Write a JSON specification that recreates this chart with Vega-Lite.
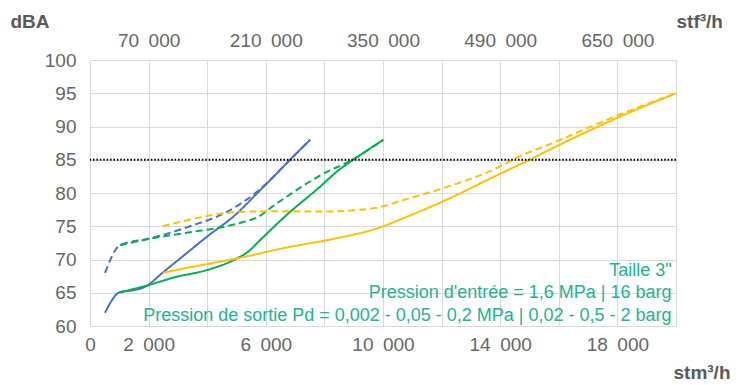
{
  "$schema": "https://vega.github.io/schema/vega-lite/v6.json",
  "width": 586,
  "height": 266,
  "autosize": {"type": "none"},
  "padding": {"left": 90, "top": 60, "right": 68, "bottom": 59},
  "background": "white",
  "config": {
    "view": {"stroke": null},
    "axis": {
      "labelFont": "Liberation Sans",
      "labelFontSize": 19,
      "labelColor": "#666666",
      "titleFont": "Liberation Sans",
      "titleFontWeight": "bold",
      "titleFontSize": 19,
      "titleColor": "#595959",
      "gridColor": "#d9d9d9",
      "gridWidth": 1,
      "domain": false,
      "ticks": false,
      "tickSize": 0,
      "labelOverlap": false,
      "labelFlush": false,
      "labelBound": false
    }
  },
  "datasets": {
    "curves": [
      {"x": 512, "y": 62.0, "series": "blue", "style": "solid"},
      {"x": 1024, "y": 65.1, "series": "blue", "style": "solid"},
      {"x": 1500, "y": 65.4, "series": "blue", "style": "solid"},
      {"x": 1878, "y": 65.9, "series": "blue", "style": "solid"},
      {"x": 2500, "y": 68.1, "series": "blue", "style": "solid"},
      {"x": 3200, "y": 70.6, "series": "blue", "style": "solid"},
      {"x": 3983, "y": 73.4, "series": "blue", "style": "solid"},
      {"x": 5007, "y": 76.9, "series": "blue", "style": "solid"},
      {"x": 5690, "y": 79.9, "series": "blue", "style": "solid"},
      {"x": 6300, "y": 82.6, "series": "blue", "style": "solid"},
      {"x": 6828, "y": 85.0, "series": "blue", "style": "solid"},
      {"x": 7511, "y": 88.0, "series": "blue", "style": "solid"},

      {"x": 512, "y": 68.0, "series": "blue", "style": "dashed"},
      {"x": 1024, "y": 72.15, "series": "blue", "style": "dashed"},
      {"x": 2026, "y": 73.15, "series": "blue", "style": "dashed"},
      {"x": 3414, "y": 75.0, "series": "blue", "style": "dashed"},
      {"x": 4666, "y": 77.15, "series": "blue", "style": "dashed"},
      {"x": 5690, "y": 80.15, "series": "blue", "style": "dashed"},
      {"x": 6828, "y": 85.0, "series": "blue", "style": "dashed"},
      {"x": 7511, "y": 88.0, "series": "blue", "style": "dashed"},

      {"x": 1024, "y": 65.05, "series": "green", "style": "solid"},
      {"x": 1878, "y": 66.0, "series": "green", "style": "solid"},
      {"x": 2959, "y": 67.4, "series": "green", "style": "solid"},
      {"x": 3983, "y": 68.4, "series": "green", "style": "solid"},
      {"x": 5007, "y": 70.15, "series": "green", "style": "solid"},
      {"x": 5461, "y": 71.4, "series": "green", "style": "solid"},
      {"x": 5690, "y": 72.4, "series": "green", "style": "solid"},
      {"x": 6828, "y": 77.15, "series": "green", "style": "solid"},
      {"x": 7736, "y": 80.5, "series": "green", "style": "solid"},
      {"x": 8535, "y": 83.6, "series": "green", "style": "solid"},
      {"x": 8987, "y": 85.0, "series": "green", "style": "solid"},
      {"x": 10011, "y": 88.0, "series": "green", "style": "solid"},

      {"x": 1024, "y": 72.15, "series": "green", "style": "dashed"},
      {"x": 2026, "y": 73.1, "series": "green", "style": "dashed"},
      {"x": 3414, "y": 74.1, "series": "green", "style": "dashed"},
      {"x": 4552, "y": 74.9, "series": "green", "style": "dashed"},
      {"x": 5200, "y": 75.6, "series": "green", "style": "dashed"},
      {"x": 5690, "y": 76.3, "series": "green", "style": "dashed"},
      {"x": 6300, "y": 78.2, "series": "green", "style": "dashed"},
      {"x": 7000, "y": 80.3, "series": "green", "style": "dashed"},
      {"x": 7964, "y": 82.9, "series": "green", "style": "dashed"},
      {"x": 8873, "y": 84.8, "series": "green", "style": "dashed"},
      {"x": 10011, "y": 88.0, "series": "green", "style": "dashed"},

      {"x": 2481, "y": 68.0, "series": "yellow", "style": "solid"},
      {"x": 3500, "y": 68.9, "series": "yellow", "style": "solid"},
      {"x": 5007, "y": 70.15, "series": "yellow", "style": "solid"},
      {"x": 6828, "y": 71.9, "series": "yellow", "style": "solid"},
      {"x": 7964, "y": 72.8, "series": "yellow", "style": "solid"},
      {"x": 8535, "y": 73.3, "series": "yellow", "style": "solid"},
      {"x": 10011, "y": 75.0, "series": "yellow", "style": "solid"},
      {"x": 10580, "y": 76.0, "series": "yellow", "style": "solid"},
      {"x": 12000, "y": 78.65, "series": "yellow", "style": "solid"},
      {"x": 14000, "y": 82.9, "series": "yellow", "style": "solid"},
      {"x": 15000, "y": 85.0, "series": "yellow", "style": "solid"},
      {"x": 16000, "y": 87.2, "series": "yellow", "style": "solid"},
      {"x": 18000, "y": 91.3, "series": "yellow", "style": "solid"},
      {"x": 20000, "y": 95.0, "series": "yellow", "style": "solid"},

      {"x": 2481, "y": 75.0, "series": "yellow", "style": "dashed"},
      {"x": 3414, "y": 76.0, "series": "yellow", "style": "dashed"},
      {"x": 4500, "y": 76.9, "series": "yellow", "style": "dashed"},
      {"x": 5461, "y": 77.2, "series": "yellow", "style": "dashed"},
      {"x": 6500, "y": 77.25, "series": "yellow", "style": "dashed"},
      {"x": 7964, "y": 77.2, "series": "yellow", "style": "dashed"},
      {"x": 9000, "y": 77.4, "series": "yellow", "style": "dashed"},
      {"x": 10011, "y": 78.0, "series": "yellow", "style": "dashed"},
      {"x": 10580, "y": 78.8, "series": "yellow", "style": "dashed"},
      {"x": 12000, "y": 80.65, "series": "yellow", "style": "dashed"},
      {"x": 14000, "y": 84.0, "series": "yellow", "style": "dashed"},
      {"x": 14430, "y": 85.0, "series": "yellow", "style": "dashed"},
      {"x": 16000, "y": 87.9, "series": "yellow", "style": "dashed"},
      {"x": 18000, "y": 91.65, "series": "yellow", "style": "dashed"},
      {"x": 20000, "y": 95.0, "series": "yellow", "style": "dashed"}
    ],
    "one": [{"limit": 85}]
  },
  "layer": [
    {
      "data": {"name": "curves"},
      "mark": {"type": "line", "interpolate": "monotone", "strokeWidth": 2},
      "encoding": {
        "x": {
          "field": "x",
          "type": "quantitative",
          "scale": {"domain": [0, 20000], "nice": false, "zero": false},
          "axis": {
            "orient": "bottom",
            "values": [0, 2000, 4000, 6000, 8000, 10000, 12000, 14000, 16000, 18000, 20000],
            "labelExpr": "datum.value % 4000 == 0 && datum.value > 0 ? '' : replace(format(datum.value, ','), ',', '\u2002')",
            "labelPadding": 9,
            "grid": true,
            "title": "stm³/h",
            "titleAlign": "left",
            "titleBaseline": "alphabetic",
            "titleAngle": 0,
            "titleX": 583,
            "titleY": 52
          }
        },
        "y": {
          "field": "y",
          "type": "quantitative",
          "scale": {"domain": [60, 100], "nice": false, "zero": false},
          "axis": {
            "values": [60, 65, 70, 75, 80, 85, 90, 95, 100],
            "labelPadding": 14,
            "grid": true,
            "title": "dBA",
            "titleAngle": 0,
            "titleAlign": "left",
            "titleBaseline": "alphabetic",
            "titleX": -80,
            "titleY": -33
          }
        },
        "color": {
          "field": "series",
          "type": "nominal",
          "scale": {"domain": ["blue", "green", "yellow"], "range": ["#4472C4", "#00B050", "#FFC000"]},
          "legend": null
        },
        "strokeDash": {
          "field": "style",
          "type": "nominal",
          "scale": {"domain": ["solid", "dashed"], "range": [[1, 0], [7, 4]]},
          "legend": null
        }
      }
    },
    {
      "data": {"name": "one"},
      "mark": {"type": "rule", "color": "#000000", "strokeWidth": 2, "strokeDash": [1.6, 1.8]},
      "encoding": {
        "y": {"field": "limit", "type": "quantitative", "axis": null}
      }
    },
    {
      "data": {"name": "one"},
      "mark": {
        "type": "text",
        "align": "right",
        "baseline": "alphabetic",
        "font": "Liberation Sans",
        "fontSize": 18,
        "lineHeight": 22.5,
        "color": "#1DB394"
      },
      "encoding": {
        "x": {
          "datum": 19850,
          "type": "quantitative",
          "axis": {
            "orient": "top",
            "values": [2000, 6000, 10000, 14000, 18000],
            "labelExpr": "datum.value == 2000 ? '70\u2002000' : datum.value == 6000 ? '210\u2002000' : datum.value == 10000 ? '350\u2002000' : datum.value == 14000 ? '490\u2002000' : '650\u2002000'",
            "labelPadding": 10,
            "grid": false,
            "title": "stf³/h",
            "titleAlign": "left",
            "titleBaseline": "alphabetic",
            "titleAngle": 0,
            "titleX": 586,
            "titleY": -33
          }
        },
        "y": {"datum": 67.52, "type": "quantitative", "axis": null},
        "text": {"value": ["Taille 3\"", "Pression d'entrée = 1,6 MPa | 16 barg", "Pression de sortie Pd = 0,002 - 0,05 - 0,2 MPa | 0,02 - 0,5 - 2 barg"]}
      }
    }
  ],
  "resolve": {"axis": {"x": "independent", "y": "independent"}}
}
